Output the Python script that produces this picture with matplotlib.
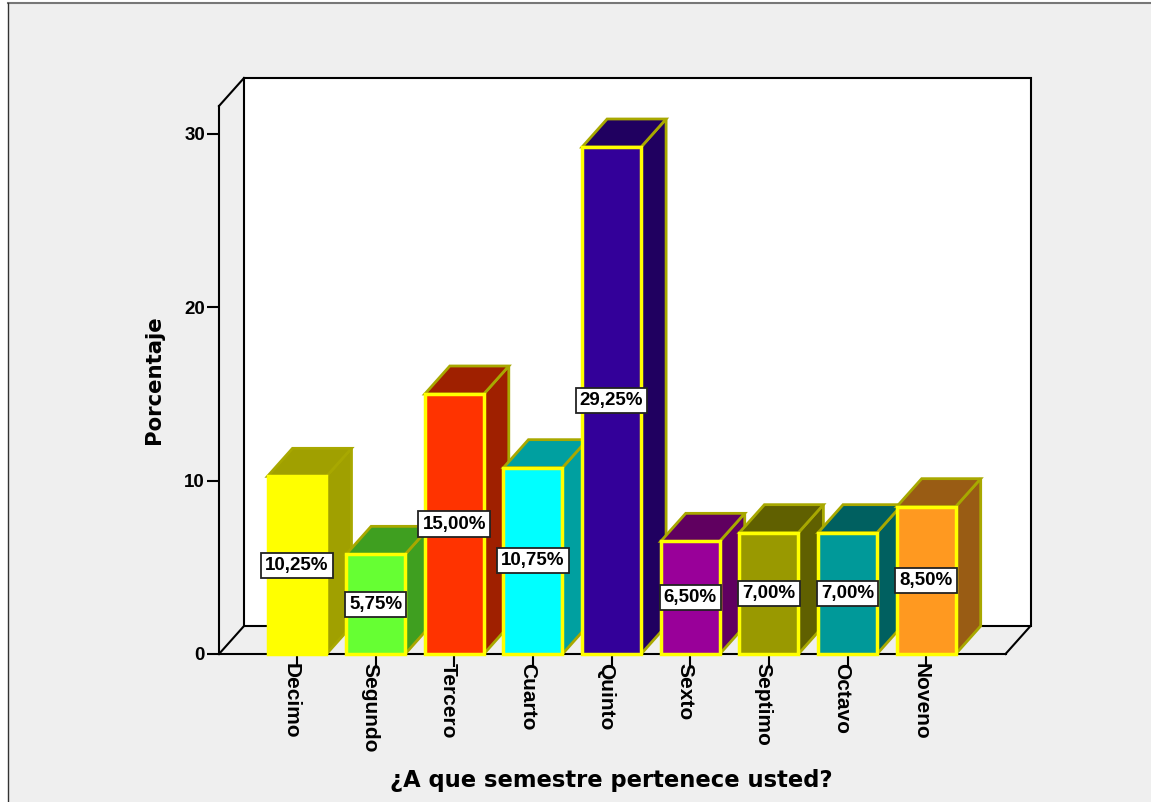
import matplotlib
matplotlib.use("Agg")
import matplotlib.pyplot as plt
from matplotlib.patches import Polygon, Rectangle
from matplotlib.lines import Line2D
from matplotlib.transforms import ScaledTranslation

categorias = ["Decimo", "Segundo", "Tercero", "Cuarto", "Quinto",
              "Sexto", "Septimo", "Octavo", "Noveno"]
porcentajes = [10.25, 5.75, 15.00, 10.75, 29.25, 6.50, 7.00, 7.00, 8.50]
colores = ["#ffff00", "#66ff33", "#ff3300", "#00ffff", "#330099",
           "#990099", "#999900", "#009999", "#ff9920"]
laterales = ["#a0a000", "#3f9f20", "#9f2000", "#00a0a0", "#200060",
             "#600060", "#606000", "#006060", "#995c14"]
ticks_y = [0, 10, 20, 30]

W, H = 1151, 802
FONDO = "#efefef"
BORDE_FRENTE = "#ffff00"
BORDE_FONDO = "#a8a800"

fig = plt.figure(figsize=(W / 100, H / 100), dpi=100, facecolor="white")

# panel gris con el marco de la ventana
fig.add_artist(Rectangle((8 / W, 0), 1, 1 - 3 / H, transform=fig.transFigure,
                         facecolor=FONDO, edgecolor="none", zorder=-2))
fig.add_artist(Line2D([8 / W, 1], [1 - 3 / H, 1 - 3 / H], color="#777777", lw=1.5, zorder=-1))
fig.add_artist(Line2D([8 / W, 8 / W], [0, 1 - 3 / H], color="#333333", lw=1.0, zorder=-1))

# plano frontal del grafico
x0, x1, y0, y_top = 219, 1005.5, 654, 106
ax = fig.add_axes([x0 / W, 1 - y0 / H, (x1 - x0) / W, (y0 - y_top) / H])
ax.patch.set_alpha(0)

paso = 78.65
px_y = 520 / 30
ax.set_xlim((x0 - 297) / paso, (x1 - 297) / paso)
ax.set_ylim(0, (y0 - y_top) / px_y)

# profundidad de la perspectiva, en unidades de datos
dx = 25 / paso
dy = 28 / px_y
xa, xb = ax.get_xlim()
ya, yb = ax.get_ylim()

# pared del fondo y aristas de la caja
ax.add_patch(Rectangle((xa + dx, ya + dy), xb - xa, yb - ya, facecolor="white",
                       edgecolor="black", lw=1.5, zorder=1, clip_on=False))
ax.plot([xa, xa + dx], [yb, yb + dy], color="black", lw=1.5, clip_on=False, zorder=1)
ax.plot([xa, xa + dx], [ya, ya + dy], color="black", lw=1.5, clip_on=False, zorder=1)
ax.plot([xb, xb + dx], [ya, ya + dy], color="black", lw=1.5, clip_on=False, zorder=1)

ancho = 0.75
for i, v in enumerate(porcentajes):
    z = 3 + i
    izq, der = i - ancho / 2, i + ancho / 2
    ax.add_patch(Polygon([(der, 0), (der + dx, dy), (der + dx, v + dy), (der, v)],
                         facecolor=laterales[i], edgecolor=BORDE_FONDO, lw=2.0,
                         zorder=z, clip_on=False))
    ax.add_patch(Polygon([(izq, v), (izq + dx, v + dy), (der + dx, v + dy), (der, v)],
                         facecolor=laterales[i], edgecolor=BORDE_FONDO, lw=2.0,
                         zorder=z, clip_on=False))
    ax.bar(i, v, width=ancho, color=colores[i], edgecolor=BORDE_FRENTE, lw=2.5,
           zorder=z + 0.5, clip_on=False)

for i, v in enumerate(porcentajes):
    ax.text(i, v / 2, f"{v:.2f}%".replace(".", ","), ha="center", va="center",
            fontsize=13.5, fontweight="bold", family="Liberation Sans", zorder=30,
            bbox=dict(boxstyle="square,pad=0.22", facecolor="white",
                      edgecolor="#222222", lw=1.3))

for lado in ["top", "right"]:
    ax.spines[lado].set_visible(False)
for lado in ["left", "bottom"]:
    ax.spines[lado].set_linewidth(1.5)
    ax.spines[lado].set_zorder(2)

ax.set_yticks(ticks_y)
ax.set_yticklabels(ticks_y, fontsize=13.5, fontweight="bold", family="Liberation Sans")
ax.set_xticks(range(len(categorias)))
ax.set_xticklabels(categorias, rotation=-90, fontsize=15, fontweight="bold",
                   family="Liberation Sans")
ax.tick_params(axis="both", length=9, width=1.5, pad=1, color="black")
ax.tick_params(axis="x", pad=-2.6)

# las etiquetas del eje x van algo a la izquierda de su marca
desplazamiento = ScaledTranslation(-4 / 72, 0, fig.dpi_scale_trans)
for etiqueta in ax.get_xticklabels():
    etiqueta.set_transform(etiqueta.get_transform() + desplazamiento)

fig.text(154 / W, 1 - 380 / H, "Porcentaje", rotation=90, ha="center", va="center",
         fontsize=15.3, fontweight="bold", family="DejaVu Sans")
fig.text(611 / W, 1 - 780 / H, "¿A que semestre pertenece usted?", ha="center",
         va="center", fontsize=16.3, fontweight="bold", family="DejaVu Sans")

fig.savefig("out.png", dpi=100)
